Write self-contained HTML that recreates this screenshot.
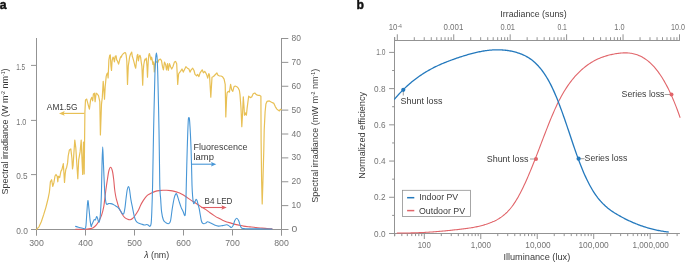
<!DOCTYPE html>
<html><head><meta charset="utf-8"><style>
html,body{margin:0;padding:0;background:#fff;width:685px;height:262px;overflow:hidden}
svg{display:block;will-change:transform}
text{font-family:"Liberation Sans", sans-serif}
</style></head><body>
<svg width="685" height="262" viewBox="0 0 685 262" font-family='"Liberation Sans", sans-serif'><text x="-0.3" y="9.2" font-size="12.2" fill="#111" font-weight="bold" stroke="#111" stroke-width="0.45">a</text>
<text x="356.6" y="8.9" font-size="12.2" fill="#111" font-weight="bold" stroke="#111" stroke-width="0.4">b</text>
<line x1="36.5" y1="38" x2="36.5" y2="235.5" stroke="#939393" stroke-width="1"/>
<line x1="31" y1="229.5" x2="288.3" y2="229.5" stroke="#939393" stroke-width="1"/>
<line x1="281.5" y1="38" x2="281.5" y2="235.5" stroke="#939393" stroke-width="1"/>
<line x1="31" y1="229.5" x2="36.5" y2="229.5" stroke="#939393" stroke-width="1"/>
<text x="16.2" y="233.8" font-size="9" fill="#747474" textLength="11.7" lengthAdjust="spacingAndGlyphs" >0.0</text>
<line x1="31" y1="174.6" x2="36.5" y2="174.6" stroke="#939393" stroke-width="1"/>
<text x="16.2" y="178.9" font-size="9" fill="#747474" textLength="11.5" lengthAdjust="spacingAndGlyphs" >0.5</text>
<line x1="31" y1="120.4" x2="36.5" y2="120.4" stroke="#939393" stroke-width="1"/>
<text x="16.2" y="124.7" font-size="9" fill="#747474" textLength="10.1" lengthAdjust="spacingAndGlyphs" >1.0</text>
<line x1="31" y1="65.4" x2="36.5" y2="65.4" stroke="#939393" stroke-width="1"/>
<text x="16.2" y="69.7" font-size="9" fill="#747474" textLength="9" lengthAdjust="spacingAndGlyphs" >1.5</text>
<line x1="281.5" y1="229.5" x2="288.3" y2="229.5" stroke="#939393" stroke-width="1"/>
<text x="291.5" y="232" font-size="9" fill="#747474" textLength="5.8" lengthAdjust="spacingAndGlyphs" >0</text>
<line x1="281.5" y1="205.62" x2="288.3" y2="205.62" stroke="#939393" stroke-width="1"/>
<text x="291.5" y="208.12" font-size="9" fill="#747474" textLength="9.4" lengthAdjust="spacingAndGlyphs" >10</text>
<line x1="281.5" y1="181.75" x2="288.3" y2="181.75" stroke="#939393" stroke-width="1"/>
<text x="291.5" y="184.25" font-size="9" fill="#747474" textLength="9.4" lengthAdjust="spacingAndGlyphs" >20</text>
<line x1="281.5" y1="157.88" x2="288.3" y2="157.88" stroke="#939393" stroke-width="1"/>
<text x="291.5" y="160.38" font-size="9" fill="#747474" textLength="9.4" lengthAdjust="spacingAndGlyphs" >30</text>
<line x1="281.5" y1="134" x2="288.3" y2="134" stroke="#939393" stroke-width="1"/>
<text x="291.5" y="136.5" font-size="9" fill="#747474" textLength="9.4" lengthAdjust="spacingAndGlyphs" >40</text>
<line x1="281.5" y1="110.12" x2="288.3" y2="110.12" stroke="#939393" stroke-width="1"/>
<text x="291.5" y="112.62" font-size="9" fill="#747474" textLength="9.4" lengthAdjust="spacingAndGlyphs" >50</text>
<line x1="281.5" y1="86.25" x2="288.3" y2="86.25" stroke="#939393" stroke-width="1"/>
<text x="291.5" y="88.75" font-size="9" fill="#747474" textLength="9.4" lengthAdjust="spacingAndGlyphs" >60</text>
<line x1="281.5" y1="62.38" x2="288.3" y2="62.38" stroke="#939393" stroke-width="1"/>
<text x="291.5" y="64.88" font-size="9" fill="#747474" textLength="9.4" lengthAdjust="spacingAndGlyphs" >70</text>
<line x1="281.5" y1="38.5" x2="288.3" y2="38.5" stroke="#939393" stroke-width="1"/>
<text x="291.5" y="41" font-size="9" fill="#747474" textLength="9.4" lengthAdjust="spacingAndGlyphs" >80</text>
<line x1="36.5" y1="229.5" x2="36.5" y2="235.5" stroke="#939393" stroke-width="1"/>
<text x="36.5" y="245.9" font-size="9" fill="#747474" textLength="14.6" lengthAdjust="spacingAndGlyphs" text-anchor="middle" >300</text>
<line x1="85.5" y1="229.5" x2="85.5" y2="235.5" stroke="#939393" stroke-width="1"/>
<text x="85.5" y="245.9" font-size="9" fill="#747474" textLength="14.6" lengthAdjust="spacingAndGlyphs" text-anchor="middle" >400</text>
<line x1="134.5" y1="229.5" x2="134.5" y2="235.5" stroke="#939393" stroke-width="1"/>
<text x="134.5" y="245.9" font-size="9" fill="#747474" textLength="14.6" lengthAdjust="spacingAndGlyphs" text-anchor="middle" >500</text>
<line x1="183.5" y1="229.5" x2="183.5" y2="235.5" stroke="#939393" stroke-width="1"/>
<text x="183.5" y="245.9" font-size="9" fill="#747474" textLength="14.6" lengthAdjust="spacingAndGlyphs" text-anchor="middle" >600</text>
<line x1="232.5" y1="229.5" x2="232.5" y2="235.5" stroke="#939393" stroke-width="1"/>
<text x="232.5" y="245.9" font-size="9" fill="#747474" textLength="14.6" lengthAdjust="spacingAndGlyphs" text-anchor="middle" >700</text>
<line x1="281.5" y1="229.5" x2="281.5" y2="235.5" stroke="#939393" stroke-width="1"/>
<text x="281.5" y="245.9" font-size="9" fill="#747474" textLength="14.6" lengthAdjust="spacingAndGlyphs" text-anchor="middle" >800</text>
<text x="144.2" y="258.3" font-size="9" fill="#3a3a3a" textLength="25" lengthAdjust="spacingAndGlyphs"><tspan font-style="italic">λ</tspan> (nm)</text>
<text transform="translate(8.0,194.4) rotate(-90)" font-size="9" fill="#3a3a3a" textLength="126" lengthAdjust="spacingAndGlyphs">Spectral irradiance (W m<tspan font-size="5.2" dy="-3.3">-2</tspan><tspan dy="3.3"> nm</tspan><tspan font-size="5.2" dy="-3.3">-1</tspan><tspan dy="3.3">)</tspan></text>
<text transform="translate(317.9,202.8) rotate(-90)" font-size="9" fill="#3a3a3a" textLength="134" lengthAdjust="spacingAndGlyphs">Spectral irradiance (mW m<tspan font-size="5.2" dy="-3.3">-2</tspan><tspan dy="3.3"> nm</tspan><tspan font-size="5.2" dy="-3.3">-1</tspan><tspan dy="3.3">)</tspan></text>
<path d="M36.5,229.4 L39,226.8 L41.3,221.8 L43.6,214.9 L45.9,207.3 L47,203 L48.2,198.1 L49.4,192 L50.4,181.7 L51.6,179.7 L52.8,186.4 L53.9,182.7 L55,176 L56,174.5 L57.2,176.3 L57.8,181.8 L58.4,176.3 L59.7,177.5 L60.9,171.4 L61.9,169.6 L62.7,166.5 L63.3,163.5 L63.9,172.6 L64.5,182.4 L65.2,173.9 L65.8,169.6 L66.7,167.2 L67.6,162.9 L68.2,156 L69.4,149.9 L70.8,148.9 L71.9,158 L72.5,169 L73.1,165.3 L73.7,156 L74.8,140 L75.8,147.9 L76.8,163.8 L77.8,178.7 L78.7,159.8 L80.1,151.9 L81.2,140 L82.1,162 L82.7,174.5 L83.5,142 L84.2,174 L84.9,112 L85.5,99.9 L86.7,99.1 L88,104.1 L89.4,109.2 L90.6,99.9 L91.7,97.4 L92.7,100.8 L93.4,94 L94.4,93.2 L95.1,101.6 L96.1,93.2 L97.3,94 L98.5,95.7 L99.8,101.6 L100.4,134.9 L101.5,104.1 L102.3,97.4 L103.2,81.4 L104,91.5 L104.5,99.1 L105.2,86.5 L106.2,76.4 L106.9,73.9 L107.6,73 L108.1,78 L108.9,59.9 L109.7,55.3 L110.3,54.9 L110.9,65.4 L111.5,70.5 L112.1,60.8 L113,57.2 L113.7,58.1 L114.4,61.8 L115.2,56.3 L116.1,55.8 L116.7,59.9 L117.4,60.8 L118.1,62.7 L118.6,64.1 L119.2,61.8 L119.9,59 L120.7,56.7 L121.3,57.2 L121.9,55.3 L122.7,54.4 L123.4,53.5 L124.3,53 L125,52.6 L125.6,53 L126.2,55.3 L126.8,60.8 L127.5,84.5 L128.3,66 L128.9,61.8 L129.6,57.2 L130.2,55 L130.9,53.5 L131.7,52.1 L132.3,56.3 L132.9,58.1 L133.7,60.8 L134.4,63.6 L135,66.3 L135.7,68.2 L136.4,61.8 L137.2,55.3 L137.8,54.4 L138.4,60.8 L139.2,56.7 L139.9,55.3 L140.6,57.2 L141.2,61.8 L141.9,66.3 L142.7,85.2 L143.3,70 L143.8,64.5 L144.5,60.8 L145.1,59 L145.8,59.9 L146.3,58.1 L147,66.3 L147.5,77.2 L148.2,61.8 L148.8,55.3 L149.4,53.5 L150.2,56.3 L150.9,59.9 L151.6,57.2 L152.2,59.9 L152.9,64.5 L153.7,61.8 L154.3,71.9 L154.9,64.4 L156.1,61.4 L157.6,62.9 L158.9,59.8 L160.4,59.1 L161.5,60.6 L162.5,66.7 L163.4,69.8 L164.5,62.1 L165.6,64.4 L166.5,69.8 L167.6,63.7 L168.3,70.5 L169.5,63.7 L170.6,66.7 L171.7,69 L172.9,66.7 L174.4,62.1 L175.6,61.4 L176.7,63.7 L177.7,84.5 L178.6,74 L179.3,72.8 L180.5,71.3 L182,69 L183.3,72.1 L184.4,69.8 L185.9,66.7 L187.4,68.2 L188.9,69 L190,72.1 L191.2,69.8 L192.7,68.2 L194,70.5 L195,74.4 L196.6,75.9 L197.6,74.4 L198.9,76.6 L200.1,72.8 L201.1,71.3 L202.2,69.8 L203.4,72.8 L204.7,71.3 L205.7,72.8 L206.8,75.1 L207.7,78.2 L208.8,73.6 L209.5,75 L210.8,97.1 L212,77.2 L213.5,76.5 L215.4,74.5 L216.9,73 L218,75.3 L219.5,76 L221,76 L222.6,76.8 L224.1,79.1 L225.2,84.4 L225.8,117 L226.6,98 L227.1,92.8 L228.2,91.3 L229.4,92.1 L230.6,84.4 L231.7,89.8 L232.8,91.3 L234,86.7 L235.2,86 L236.8,86.7 L238.3,88.2 L239.4,90.5 L240,94.6 L241,108.3 L241.8,126.6 L242.6,112.9 L243.3,96.9 L244.1,108.3 L244.5,115.2 L245.6,112.9 L246.4,115.2 L247.1,108.3 L247.9,102.2 L248.7,96.1 L250.2,97.6 L251.7,96.9 L253.2,93.8 L254.8,93 L256.3,94.6 L257.8,95.3 L259.4,95.3 L260.9,96.3 L261.1,140 L261.6,180 L262.2,204 L262.9,182 L263.8,150 L264.2,130 L265.1,112 L265.9,104 L267,101.4 L269.3,100.9 L271.6,102.2 L273.9,103.4 L275.4,106.8 L276.9,109.1 L278,110 L279.4,110.9 L280.3,109.4 L281.3,109.6" fill="none" stroke="#e8c055" stroke-width="1.2" stroke-linejoin="round" stroke-linecap="round" />
<path d="M75.6,229.3 C77.13,229.3 82.33,229.42 84.8,229.3 C87.27,229.18 89,228.87 90.4,228.6 C91.8,228.33 92.2,228.33 93.2,227.7 C94.2,227.07 95.45,225.92 96.4,224.8 C97.35,223.68 98.02,222.67 98.9,221 C99.78,219.33 100.88,217.25 101.7,214.8 C102.52,212.35 103.25,209.27 103.8,206.3 C104.35,203.33 104.63,199.88 105,197 C105.37,194.12 105.6,191.92 106,189 C106.4,186.08 106.93,182.5 107.4,179.5 C107.87,176.5 108.27,173.05 108.8,171 C109.33,168.95 110,167.2 110.6,167.2 C111.2,167.2 111.88,168.95 112.4,171 C112.92,173.05 113.33,176.5 113.7,179.5 C114.07,182.5 114.3,186.42 114.6,189 C114.9,191.58 115.18,193.23 115.5,195 C115.82,196.77 115.93,197.5 116.5,199.6 C117.07,201.7 117.97,205.2 118.9,207.6 C119.83,210 121.17,212.38 122.1,214 C123.03,215.62 123.57,216.43 124.5,217.3 C125.43,218.17 126.77,218.8 127.7,219.2 C128.63,219.6 129.3,219.82 130.1,219.7 C130.9,219.58 131.7,219.17 132.5,218.5 C133.3,217.83 133.97,216.98 134.9,215.7 C135.83,214.42 137.17,212.5 138.1,210.8 C139.03,209.1 139.8,206.95 140.5,205.5 C141.2,204.05 141.62,203.25 142.3,202.1 C142.98,200.95 143.72,199.75 144.6,198.6 C145.48,197.45 146.45,196.15 147.6,195.2 C148.75,194.25 150.22,193.53 151.5,192.9 C152.78,192.27 154.03,191.78 155.3,191.4 C156.57,191.02 157.83,190.78 159.1,190.6 C160.37,190.42 161.63,190.35 162.9,190.3 C164.17,190.25 165.43,190.25 166.7,190.3 C167.97,190.35 169.22,190.42 170.5,190.6 C171.78,190.78 173.12,191.08 174.4,191.4 C175.68,191.72 177.18,192.17 178.2,192.5 C179.22,192.83 179.32,192.78 180.5,193.4 C181.68,194.02 183.63,195.12 185.3,196.2 C186.97,197.28 188.78,198.77 190.5,199.9 C192.22,201.03 193.88,201.88 195.6,203 C197.32,204.12 199.08,205.5 200.8,206.6 C202.52,207.7 204.37,208.57 205.9,209.6 C207.43,210.63 208.62,211.8 210,212.8 C211.38,213.8 212.8,214.72 214.2,215.6 C215.6,216.48 217,217.33 218.4,218.1 C219.8,218.87 221.2,219.57 222.6,220.2 C224,220.83 225.4,221.42 226.8,221.9 C228.2,222.38 229.6,222.68 231,223.1 C232.4,223.52 233.8,224.05 235.2,224.4 C236.6,224.75 238,224.92 239.4,225.2 C240.8,225.48 241.83,225.82 243.6,226.1 C245.37,226.38 247.93,226.65 250,226.9 C252.07,227.15 254,227.4 256,227.6 C258,227.8 260.17,227.95 262,228.1 C263.83,228.25 265.33,228.38 267,228.5 C268.67,228.62 271.17,228.75 272,228.8" fill="none" stroke="#e05f64" stroke-width="1.1" stroke-linejoin="round" stroke-linecap="round" />
<path d="M75.6,226.4 C76.07,226.53 77.58,226.97 78.4,227.2 C79.22,227.43 79.78,227.63 80.5,227.8 C81.22,227.97 81.98,228.02 82.7,228.2 C83.42,228.38 84.27,229.25 84.8,228.9 C85.33,228.55 85.55,228.92 85.9,226.1 C86.25,223.28 86.57,216.25 86.9,212 C87.23,207.75 87.55,201.08 87.9,200.6 C88.25,200.12 88.63,205.8 89,209.1 C89.37,212.4 89.73,217.5 90.1,220.4 C90.47,223.3 90.92,225.78 91.2,226.5 C91.48,227.22 91.47,225.48 91.8,224.7 C92.13,223.92 92.8,222.63 93.2,221.8 C93.6,220.97 93.83,220.03 94.2,219.7 C94.57,219.37 94.98,220.33 95.4,219.8 C95.82,219.27 96.32,216.65 96.7,216.5 C97.08,216.35 97.35,217.92 97.7,218.9 C98.05,219.88 98.43,222.4 98.8,222.4 C99.17,222.4 99.55,221.63 99.9,218.9 C100.25,216.17 100.63,210.82 100.9,206 C101.17,201.18 101.32,196.83 101.5,190 C101.68,183.17 101.8,172.18 102,165 C102.2,157.82 102.45,146.9 102.7,146.9 C102.95,146.9 103.18,157.82 103.5,165 C103.82,172.18 104.28,184.33 104.6,190 C104.92,195.67 105.13,196.75 105.4,199 C105.67,201.25 105.9,202.6 106.2,203.5 C106.5,204.4 106.83,204.38 107.2,204.4 C107.57,204.42 107.8,203.73 108.4,203.6 C109,203.47 109.98,203.47 110.8,203.6 C111.62,203.73 112.48,204 113.3,204.4 C114.12,204.8 114.9,205.47 115.7,206 C116.5,206.53 117.3,206.8 118.1,207.6 C118.9,208.4 119.83,209.85 120.5,210.8 C121.17,211.75 121.57,212.82 122.1,213.3 C122.63,213.78 123.22,214.65 123.7,213.7 C124.18,212.75 124.6,210.22 125,207.6 C125.4,204.98 125.72,201.02 126.1,198 C126.48,194.98 126.88,191.4 127.3,189.5 C127.72,187.6 128.22,186.52 128.6,186.6 C128.98,186.68 129.22,187.83 129.6,190 C129.98,192.17 130.42,196.67 130.9,199.6 C131.38,202.53 131.97,204.92 132.5,207.6 C133.03,210.28 133.57,213.55 134.1,215.7 C134.63,217.85 135.03,219.3 135.7,220.5 C136.37,221.7 137.17,222.32 138.1,222.9 C139.03,223.48 140.23,223.65 141.3,224 C142.37,224.35 143.57,224.92 144.5,225 C145.43,225.08 146.23,224.45 146.9,224.5 C147.57,224.55 148,225 148.5,225.3 C149,225.6 149.47,226.58 149.9,226.3 C150.33,226.02 150.78,226 151.1,223.6 C151.42,221.2 151.55,218.33 151.8,211.9 C152.05,205.47 152.3,198.65 152.6,185 C152.9,171.35 153.22,148.33 153.6,130 C153.98,111.67 154.55,87 154.9,75 C155.25,63 155.45,61.67 155.7,58 C155.95,54.33 156.17,53 156.4,53 C156.63,53 156.87,54.33 157.1,58 C157.33,61.67 157.48,63 157.8,75 C158.12,87 158.67,111.67 159,130 C159.33,148.33 159.52,173.43 159.8,185 C160.08,196.57 160.4,194.92 160.7,199.4 C161,203.88 161.15,208.47 161.6,211.9 C162.05,215.33 162.67,218.2 163.4,220 C164.13,221.8 165.12,222.1 166,222.7 C166.88,223.3 167.95,223.9 168.7,223.6 C169.45,223.3 169.9,223.43 170.5,220.9 C171.1,218.37 171.67,212.28 172.3,208.4 C172.93,204.52 173.73,199.98 174.3,197.6 C174.87,195.22 175.28,194.65 175.7,194.1 C176.12,193.55 176.23,193.08 176.8,194.3 C177.37,195.52 178.37,199.18 179.1,201.4 C179.83,203.62 180.52,205.88 181.2,207.6 C181.88,209.32 182.63,210.38 183.2,211.7 C183.77,213.02 184.25,215.12 184.6,215.5 C184.95,215.88 185.1,215.75 185.3,214 C185.5,212.25 185.63,209.83 185.8,205 C185.97,200.17 186.07,194.17 186.3,185 C186.53,175.83 186.88,160.5 187.2,150 C187.52,139.5 187.92,127.35 188.2,122 C188.48,116.65 188.65,117.9 188.9,117.9 C189.15,117.9 189.33,116.65 189.7,122 C190.07,127.35 190.72,139.5 191.1,150 C191.48,160.5 191.73,177.17 192,185 C192.27,192.83 192.43,193.92 192.7,197 C192.97,200.08 193.2,202.77 193.6,203.5 C194,204.23 194.68,202.1 195.1,201.4 C195.52,200.7 195.75,199.38 196.1,199.3 C196.45,199.22 196.85,199.95 197.2,200.9 C197.55,201.85 197.87,203.72 198.2,205 C198.53,206.28 198.85,206.93 199.2,208.6 C199.55,210.27 199.95,213.02 200.3,215 C200.65,216.98 200.93,219.13 201.3,220.5 C201.67,221.87 202.05,222.65 202.5,223.2 C202.95,223.75 203.47,223.82 204,223.8 C204.53,223.78 205.12,223.43 205.7,223.1 C206.28,222.77 206.78,221.87 207.5,221.8 C208.22,221.73 208.88,222.2 210,222.7 C211.12,223.2 212.8,224.23 214.2,224.8 C215.6,225.37 217,225.97 218.4,226.1 C219.8,226.23 221.2,225.82 222.6,225.6 C224,225.38 225.68,224.72 226.8,224.8 C227.92,224.88 228.53,225.65 229.3,226.1 C230.07,226.55 230.77,227.58 231.4,227.5 C232.03,227.42 232.53,226.75 233.1,225.6 C233.67,224.45 234.2,221.82 234.8,220.6 C235.4,219.38 236.07,218.3 236.7,218.3 C237.33,218.3 238,219.38 238.6,220.6 C239.2,221.82 239.75,224.33 240.3,225.6 C240.85,226.87 241.07,227.68 241.9,228.2 C242.73,228.72 242.38,228.58 245.3,228.7 C248.22,228.82 254.95,228.85 259.4,228.9 C263.85,228.95 269.9,228.98 272,229" fill="none" stroke="#4796d6" stroke-width="1.1" stroke-linejoin="round" stroke-linecap="round" />
<text x="46.8" y="109.8" font-size="9" fill="#3a3a3a" textLength="30.7" lengthAdjust="spacingAndGlyphs" >AM1.5G</text>
<line x1="84.5" y1="113.4" x2="63" y2="113.4" stroke="#e8c055" stroke-width="1.15"/>
<path d="M59.0,113.4 L64.7,111.0 L63.7,113.4 L64.7,115.8 Z" fill="#e8c055"/>
<text x="193.5" y="149.8" font-size="8.8" fill="#3a3a3a" textLength="54" lengthAdjust="spacingAndGlyphs" >Fluorescence</text>
<text x="193.5" y="159.8" font-size="8.8" fill="#3a3a3a" textLength="20.5" lengthAdjust="spacingAndGlyphs" >lamp</text>
<line x1="191.7" y1="164.2" x2="212" y2="164.2" stroke="#4796d6" stroke-width="1.1"/>
<path d="M216.3,164.2 L211,162 L211.9,164.2 L211,166.4 Z" fill="#4796d6"/>
<text x="204.5" y="203.9" font-size="8.6" fill="#3a3a3a" textLength="27.9" lengthAdjust="spacingAndGlyphs" >B4 LED</text>
<line x1="201.2" y1="207.5" x2="222.5" y2="207.5" stroke="#e05f64" stroke-width="1.1"/>
<path d="M226.7,207.5 L221.4,205.3 L222.3,207.5 L221.4,209.7 Z" fill="#e05f64"/>
<line x1="394.5" y1="37" x2="394.5" y2="236.3" stroke="#939393" stroke-width="1"/>
<line x1="389" y1="233.5" x2="679.9" y2="233.5" stroke="#939393" stroke-width="1"/>
<line x1="394.5" y1="40.5" x2="679.9" y2="40.5" stroke="#939393" stroke-width="1"/>
<line x1="389.1" y1="233.5" x2="394.5" y2="233.5" stroke="#939393" stroke-width="1"/>
<text x="374.1" y="236.5" font-size="9" fill="#747474" textLength="11.4" lengthAdjust="spacingAndGlyphs" >0.0</text>
<line x1="392.1" y1="215.39" x2="394.5" y2="215.39" stroke="#939393" stroke-width="1"/>
<line x1="389.1" y1="197.28" x2="394.5" y2="197.28" stroke="#939393" stroke-width="1"/>
<text x="374.1" y="200.28" font-size="9" fill="#747474" textLength="11.4" lengthAdjust="spacingAndGlyphs" >0.2</text>
<line x1="392.1" y1="179.17" x2="394.5" y2="179.17" stroke="#939393" stroke-width="1"/>
<line x1="389.1" y1="161.06" x2="394.5" y2="161.06" stroke="#939393" stroke-width="1"/>
<text x="374.1" y="164.06" font-size="9" fill="#747474" textLength="11.4" lengthAdjust="spacingAndGlyphs" >0.4</text>
<line x1="392.1" y1="142.95" x2="394.5" y2="142.95" stroke="#939393" stroke-width="1"/>
<line x1="389.1" y1="124.84" x2="394.5" y2="124.84" stroke="#939393" stroke-width="1"/>
<text x="374.1" y="127.84" font-size="9" fill="#747474" textLength="11.4" lengthAdjust="spacingAndGlyphs" >0.6</text>
<line x1="392.1" y1="106.73" x2="394.5" y2="106.73" stroke="#939393" stroke-width="1"/>
<line x1="389.1" y1="88.62" x2="394.5" y2="88.62" stroke="#939393" stroke-width="1"/>
<text x="374.1" y="91.62" font-size="9" fill="#747474" textLength="11.4" lengthAdjust="spacingAndGlyphs" >0.8</text>
<line x1="392.1" y1="70.51" x2="394.5" y2="70.51" stroke="#939393" stroke-width="1"/>
<line x1="389.1" y1="52.4" x2="394.5" y2="52.4" stroke="#939393" stroke-width="1"/>
<text x="376.3" y="55.4" font-size="9" fill="#747474" textLength="9.2" lengthAdjust="spacingAndGlyphs" >1.0</text>
<line x1="394.77" y1="233.5" x2="394.77" y2="236.1" stroke="#939393" stroke-width="1"/>
<line x1="401.83" y1="233.5" x2="401.83" y2="236.1" stroke="#939393" stroke-width="1"/>
<line x1="407.3" y1="233.5" x2="407.3" y2="236.1" stroke="#939393" stroke-width="1"/>
<line x1="411.77" y1="233.5" x2="411.77" y2="236.1" stroke="#939393" stroke-width="1"/>
<line x1="415.55" y1="233.5" x2="415.55" y2="236.1" stroke="#939393" stroke-width="1"/>
<line x1="418.83" y1="233.5" x2="418.83" y2="236.1" stroke="#939393" stroke-width="1"/>
<line x1="421.72" y1="233.5" x2="421.72" y2="236.1" stroke="#939393" stroke-width="1"/>
<line x1="424.3" y1="233.5" x2="424.3" y2="239" stroke="#939393" stroke-width="1"/>
<line x1="441.3" y1="233.5" x2="441.3" y2="236.1" stroke="#939393" stroke-width="1"/>
<line x1="451.24" y1="233.5" x2="451.24" y2="236.1" stroke="#939393" stroke-width="1"/>
<line x1="458.3" y1="233.5" x2="458.3" y2="236.1" stroke="#939393" stroke-width="1"/>
<line x1="463.77" y1="233.5" x2="463.77" y2="236.1" stroke="#939393" stroke-width="1"/>
<line x1="468.24" y1="233.5" x2="468.24" y2="236.1" stroke="#939393" stroke-width="1"/>
<line x1="472.02" y1="233.5" x2="472.02" y2="236.1" stroke="#939393" stroke-width="1"/>
<line x1="475.3" y1="233.5" x2="475.3" y2="236.1" stroke="#939393" stroke-width="1"/>
<line x1="478.19" y1="233.5" x2="478.19" y2="236.1" stroke="#939393" stroke-width="1"/>
<line x1="480.77" y1="233.5" x2="480.77" y2="239" stroke="#939393" stroke-width="1"/>
<line x1="497.77" y1="233.5" x2="497.77" y2="236.1" stroke="#939393" stroke-width="1"/>
<line x1="507.71" y1="233.5" x2="507.71" y2="236.1" stroke="#939393" stroke-width="1"/>
<line x1="514.77" y1="233.5" x2="514.77" y2="236.1" stroke="#939393" stroke-width="1"/>
<line x1="520.24" y1="233.5" x2="520.24" y2="236.1" stroke="#939393" stroke-width="1"/>
<line x1="524.71" y1="233.5" x2="524.71" y2="236.1" stroke="#939393" stroke-width="1"/>
<line x1="528.49" y1="233.5" x2="528.49" y2="236.1" stroke="#939393" stroke-width="1"/>
<line x1="531.77" y1="233.5" x2="531.77" y2="236.1" stroke="#939393" stroke-width="1"/>
<line x1="534.66" y1="233.5" x2="534.66" y2="236.1" stroke="#939393" stroke-width="1"/>
<line x1="537.24" y1="233.5" x2="537.24" y2="239" stroke="#939393" stroke-width="1"/>
<line x1="554.24" y1="233.5" x2="554.24" y2="236.1" stroke="#939393" stroke-width="1"/>
<line x1="564.18" y1="233.5" x2="564.18" y2="236.1" stroke="#939393" stroke-width="1"/>
<line x1="571.24" y1="233.5" x2="571.24" y2="236.1" stroke="#939393" stroke-width="1"/>
<line x1="576.71" y1="233.5" x2="576.71" y2="236.1" stroke="#939393" stroke-width="1"/>
<line x1="581.18" y1="233.5" x2="581.18" y2="236.1" stroke="#939393" stroke-width="1"/>
<line x1="584.96" y1="233.5" x2="584.96" y2="236.1" stroke="#939393" stroke-width="1"/>
<line x1="588.24" y1="233.5" x2="588.24" y2="236.1" stroke="#939393" stroke-width="1"/>
<line x1="591.13" y1="233.5" x2="591.13" y2="236.1" stroke="#939393" stroke-width="1"/>
<line x1="593.71" y1="233.5" x2="593.71" y2="239" stroke="#939393" stroke-width="1"/>
<line x1="610.71" y1="233.5" x2="610.71" y2="236.1" stroke="#939393" stroke-width="1"/>
<line x1="620.65" y1="233.5" x2="620.65" y2="236.1" stroke="#939393" stroke-width="1"/>
<line x1="627.71" y1="233.5" x2="627.71" y2="236.1" stroke="#939393" stroke-width="1"/>
<line x1="633.18" y1="233.5" x2="633.18" y2="236.1" stroke="#939393" stroke-width="1"/>
<line x1="637.65" y1="233.5" x2="637.65" y2="236.1" stroke="#939393" stroke-width="1"/>
<line x1="641.43" y1="233.5" x2="641.43" y2="236.1" stroke="#939393" stroke-width="1"/>
<line x1="644.71" y1="233.5" x2="644.71" y2="236.1" stroke="#939393" stroke-width="1"/>
<line x1="647.6" y1="233.5" x2="647.6" y2="236.1" stroke="#939393" stroke-width="1"/>
<line x1="650.18" y1="233.5" x2="650.18" y2="239" stroke="#939393" stroke-width="1"/>
<line x1="667.18" y1="233.5" x2="667.18" y2="236.1" stroke="#939393" stroke-width="1"/>
<line x1="677.12" y1="233.5" x2="677.12" y2="236.1" stroke="#939393" stroke-width="1"/>
<text x="417.7" y="247.6" font-size="9" fill="#747474" textLength="13.1" lengthAdjust="spacingAndGlyphs" >100</text>
<text x="470.8" y="247.6" font-size="9" fill="#747474" textLength="20.1" lengthAdjust="spacingAndGlyphs" >1,000</text>
<text x="525.3" y="247.6" font-size="9" fill="#747474" textLength="25.3" lengthAdjust="spacingAndGlyphs" >10,000</text>
<text x="578.4" y="247.6" font-size="9" fill="#747474" textLength="30.4" lengthAdjust="spacingAndGlyphs" >100,000</text>
<text x="632.5" y="247.6" font-size="9" fill="#747474" textLength="36.3" lengthAdjust="spacingAndGlyphs" >1,000,000</text>
<text x="503.4" y="260.4" font-size="8.8" fill="#3a3a3a" textLength="66.8" lengthAdjust="spacingAndGlyphs" >Illuminance (lux)</text>
<line x1="394.72" y1="40.5" x2="394.72" y2="37.2" stroke="#939393" stroke-width="1"/>
<line x1="397.3" y1="40.5" x2="397.3" y2="34.3" stroke="#939393" stroke-width="1"/>
<line x1="414.29" y1="40.5" x2="414.29" y2="37.2" stroke="#939393" stroke-width="1"/>
<line x1="424.23" y1="40.5" x2="424.23" y2="37.2" stroke="#939393" stroke-width="1"/>
<line x1="431.28" y1="40.5" x2="431.28" y2="37.2" stroke="#939393" stroke-width="1"/>
<line x1="436.75" y1="40.5" x2="436.75" y2="37.2" stroke="#939393" stroke-width="1"/>
<line x1="441.22" y1="40.5" x2="441.22" y2="37.2" stroke="#939393" stroke-width="1"/>
<line x1="445" y1="40.5" x2="445" y2="37.2" stroke="#939393" stroke-width="1"/>
<line x1="448.27" y1="40.5" x2="448.27" y2="37.2" stroke="#939393" stroke-width="1"/>
<line x1="451.16" y1="40.5" x2="451.16" y2="37.2" stroke="#939393" stroke-width="1"/>
<line x1="453.74" y1="40.5" x2="453.74" y2="34.3" stroke="#939393" stroke-width="1"/>
<line x1="470.73" y1="40.5" x2="470.73" y2="37.2" stroke="#939393" stroke-width="1"/>
<line x1="480.67" y1="40.5" x2="480.67" y2="37.2" stroke="#939393" stroke-width="1"/>
<line x1="487.72" y1="40.5" x2="487.72" y2="37.2" stroke="#939393" stroke-width="1"/>
<line x1="493.19" y1="40.5" x2="493.19" y2="37.2" stroke="#939393" stroke-width="1"/>
<line x1="497.66" y1="40.5" x2="497.66" y2="37.2" stroke="#939393" stroke-width="1"/>
<line x1="501.44" y1="40.5" x2="501.44" y2="37.2" stroke="#939393" stroke-width="1"/>
<line x1="504.71" y1="40.5" x2="504.71" y2="37.2" stroke="#939393" stroke-width="1"/>
<line x1="507.6" y1="40.5" x2="507.6" y2="37.2" stroke="#939393" stroke-width="1"/>
<line x1="510.18" y1="40.5" x2="510.18" y2="34.3" stroke="#939393" stroke-width="1"/>
<line x1="527.17" y1="40.5" x2="527.17" y2="37.2" stroke="#939393" stroke-width="1"/>
<line x1="537.11" y1="40.5" x2="537.11" y2="37.2" stroke="#939393" stroke-width="1"/>
<line x1="544.16" y1="40.5" x2="544.16" y2="37.2" stroke="#939393" stroke-width="1"/>
<line x1="549.63" y1="40.5" x2="549.63" y2="37.2" stroke="#939393" stroke-width="1"/>
<line x1="554.1" y1="40.5" x2="554.1" y2="37.2" stroke="#939393" stroke-width="1"/>
<line x1="557.88" y1="40.5" x2="557.88" y2="37.2" stroke="#939393" stroke-width="1"/>
<line x1="561.15" y1="40.5" x2="561.15" y2="37.2" stroke="#939393" stroke-width="1"/>
<line x1="564.04" y1="40.5" x2="564.04" y2="37.2" stroke="#939393" stroke-width="1"/>
<line x1="566.62" y1="40.5" x2="566.62" y2="34.3" stroke="#939393" stroke-width="1"/>
<line x1="583.61" y1="40.5" x2="583.61" y2="37.2" stroke="#939393" stroke-width="1"/>
<line x1="593.55" y1="40.5" x2="593.55" y2="37.2" stroke="#939393" stroke-width="1"/>
<line x1="600.6" y1="40.5" x2="600.6" y2="37.2" stroke="#939393" stroke-width="1"/>
<line x1="606.07" y1="40.5" x2="606.07" y2="37.2" stroke="#939393" stroke-width="1"/>
<line x1="610.54" y1="40.5" x2="610.54" y2="37.2" stroke="#939393" stroke-width="1"/>
<line x1="614.32" y1="40.5" x2="614.32" y2="37.2" stroke="#939393" stroke-width="1"/>
<line x1="617.59" y1="40.5" x2="617.59" y2="37.2" stroke="#939393" stroke-width="1"/>
<line x1="620.48" y1="40.5" x2="620.48" y2="37.2" stroke="#939393" stroke-width="1"/>
<line x1="623.06" y1="40.5" x2="623.06" y2="34.3" stroke="#939393" stroke-width="1"/>
<line x1="640.05" y1="40.5" x2="640.05" y2="37.2" stroke="#939393" stroke-width="1"/>
<line x1="649.99" y1="40.5" x2="649.99" y2="37.2" stroke="#939393" stroke-width="1"/>
<line x1="657.04" y1="40.5" x2="657.04" y2="37.2" stroke="#939393" stroke-width="1"/>
<line x1="662.51" y1="40.5" x2="662.51" y2="37.2" stroke="#939393" stroke-width="1"/>
<line x1="666.98" y1="40.5" x2="666.98" y2="37.2" stroke="#939393" stroke-width="1"/>
<line x1="670.76" y1="40.5" x2="670.76" y2="37.2" stroke="#939393" stroke-width="1"/>
<line x1="674.03" y1="40.5" x2="674.03" y2="37.2" stroke="#939393" stroke-width="1"/>
<line x1="676.92" y1="40.5" x2="676.92" y2="37.2" stroke="#939393" stroke-width="1"/>
<line x1="679.5" y1="40.5" x2="679.5" y2="34.3" stroke="#939393" stroke-width="1"/>
<text x="443.5" y="30.2" font-size="9" fill="#747474" textLength="19.8" lengthAdjust="spacingAndGlyphs" >0.001</text>
<text x="500.5" y="30.2" font-size="9" fill="#747474" textLength="14.5" lengthAdjust="spacingAndGlyphs" >0.01</text>
<text x="557.4" y="30.2" font-size="9" fill="#747474" textLength="9.5" lengthAdjust="spacingAndGlyphs" >0.1</text>
<text x="614.3" y="30.2" font-size="9" fill="#747474" textLength="10.2" lengthAdjust="spacingAndGlyphs" >1.0</text>
<text x="671" y="30.2" font-size="9" fill="#747474" textLength="13.9" lengthAdjust="spacingAndGlyphs" >10.0</text>
<text x="388.7" y="30.1" font-size="9" fill="#747474" textLength="8.6" lengthAdjust="spacingAndGlyphs" >10</text>
<text x="397.4" y="27.6" font-size="5.2" fill="#747474" textLength="4.6" lengthAdjust="spacingAndGlyphs" >-4</text>
<text x="500.3" y="17.2" font-size="8.8" fill="#3a3a3a" textLength="66.4" lengthAdjust="spacingAndGlyphs" >Irradiance (suns)</text>
<text transform="translate(364.8,178.7) rotate(-90)" font-size="9" fill="#3a3a3a" textLength="86.8" lengthAdjust="spacingAndGlyphs">Normalized efficiency</text>
<path d="M397.2,232.93 L398.2,232.95 L399.2,232.97 L400.2,232.98 L401.2,232.99 L402.2,233 L403.2,233 L404.2,233 L405.2,233 L406.2,232.99 L407.2,232.98 L408.2,232.97 L409.2,232.96 L410.2,232.94 L411.2,232.92 L412.2,232.9 L413.2,232.87 L414.2,232.85 L415.2,232.82 L416.2,232.78 L417.2,232.75 L418.2,232.71 L419.2,232.67 L420.2,232.63 L421.2,232.58 L422.2,232.54 L423.2,232.49 L424.2,232.43 L425.2,232.38 L426.2,232.32 L427.2,232.26 L428.2,232.2 L429.2,232.14 L430.2,232.07 L431.2,232 L432.2,231.93 L433.2,231.86 L434.2,231.79 L435.2,231.71 L436.2,231.63 L437.2,231.55 L438.2,231.47 L439.2,231.39 L440.2,231.3 L441.2,231.21 L442.2,231.12 L443.2,231.03 L444.2,230.94 L445.2,230.85 L446.2,230.75 L447.2,230.65 L448.2,230.55 L449.2,230.45 L450.2,230.35 L451.2,230.24 L452.2,230.14 L453.2,230.03 L454.2,229.92 L455.2,229.81 L456.2,229.7 L457.2,229.59 L458.2,229.48 L459.2,229.36 L460.2,229.25 L461.2,229.13 L462.2,229.01 L463.2,228.89 L464.2,228.76 L465.2,228.63 L466.2,228.5 L467.2,228.36 L468.2,228.22 L469.2,228.08 L470.2,227.92 L471.2,227.77 L472.2,227.6 L473.2,227.43 L474.2,227.24 L475.2,227.05 L476.2,226.86 L477.2,226.65 L478.2,226.43 L479.2,226.2 L480.2,225.96 L481.2,225.71 L482.2,225.44 L483.2,225.17 L484.2,224.88 L485.2,224.57 L486.2,224.26 L487.2,223.92 L488.2,223.58 L489.2,223.21 L490.2,222.84 L491.2,222.44 L492.2,222.03 L493.2,221.59 L494.2,221.14 L495.2,220.66 L496.2,220.15 L497.2,219.61 L498.2,219.04 L499.2,218.44 L500.2,217.79 L501.2,217.11 L502.2,216.39 L503.2,215.61 L504.2,214.8 L505.2,213.93 L506.2,213.01 L507.2,212.03 L508.2,210.99 L509.2,209.9 L510.2,208.74 L511.2,207.51 L512.2,206.22 L513.2,204.86 L514.2,203.42 L515.2,201.91 L516.2,200.32 L517.2,198.65 L518.2,196.91 L519.2,195.1 L520.2,193.22 L521.2,191.28 L522.2,189.28 L523.2,187.22 L524.2,185.1 L525.2,182.93 L526.2,180.71 L527.2,178.44 L528.2,176.13 L529.2,173.78 L530.2,171.39 L531.2,168.96 L532.2,166.51 L533.2,164.02 L534.2,161.5 L535.2,158.97 L536.2,156.41 L537.2,153.83 L538.2,151.24 L539.2,148.63 L540.2,146.02 L541.2,143.4 L542.2,140.78 L543.2,138.17 L544.2,135.56 L545.2,132.97 L546.2,130.39 L547.2,127.83 L548.2,125.3 L549.2,122.8 L550.2,120.33 L551.2,117.9 L552.2,115.51 L553.2,113.17 L554.2,110.88 L555.2,108.64 L556.2,106.46 L557.2,104.35 L558.2,102.3 L559.2,100.32 L560.2,98.4 L561.2,96.54 L562.2,94.75 L563.2,93.01 L564.2,91.33 L565.2,89.7 L566.2,88.13 L567.2,86.62 L568.2,85.15 L569.2,83.74 L570.2,82.37 L571.2,81.05 L572.2,79.78 L573.2,78.55 L574.2,77.36 L575.2,76.22 L576.2,75.12 L577.2,74.05 L578.2,73.02 L579.2,72.03 L580.2,71.07 L581.2,70.15 L582.2,69.25 L583.2,68.39 L584.2,67.56 L585.2,66.76 L586.2,65.99 L587.2,65.25 L588.2,64.54 L589.2,63.86 L590.2,63.2 L591.2,62.57 L592.2,61.96 L593.2,61.39 L594.2,60.83 L595.2,60.3 L596.2,59.8 L597.2,59.31 L598.2,58.85 L599.2,58.41 L600.2,57.99 L601.2,57.6 L602.2,57.22 L603.2,56.86 L604.2,56.52 L605.2,56.2 L606.2,55.89 L607.2,55.6 L608.2,55.33 L609.2,55.07 L610.2,54.83 L611.2,54.6 L612.2,54.39 L613.2,54.19 L614.2,54 L615.2,53.82 L616.2,53.65 L617.2,53.5 L618.2,53.36 L619.2,53.24 L620.2,53.13 L621.2,53.04 L622.2,52.97 L623.2,52.91 L624.2,52.88 L625.2,52.87 L626.2,52.89 L627.2,52.92 L628.2,52.99 L629.2,53.07 L630.2,53.19 L631.2,53.33 L632.2,53.51 L633.2,53.71 L634.2,53.94 L635.2,54.21 L636.2,54.51 L637.2,54.85 L638.2,55.22 L639.2,55.63 L640.2,56.08 L641.2,56.57 L642.2,57.1 L643.2,57.67 L644.2,58.28 L645.2,58.93 L646.2,59.63 L647.2,60.38 L648.2,61.17 L649.2,62.01 L650.2,62.9 L651.2,63.84 L652.2,64.84 L653.2,65.88 L654.2,66.98 L655.2,68.13 L656.2,69.34 L657.2,70.6 L658.2,71.93 L659.2,73.31 L660.2,74.75 L661.2,76.26 L662.2,77.82 L663.2,79.45 L664.2,81.14 L665.2,82.9 L666.2,84.73 L667.2,86.62 L668.2,88.59 L669.2,90.62 L670.2,92.72 L671.2,94.9 L672.2,97.15 L673.2,99.47 L674.2,101.87 L675.2,104.35 L676.2,106.9 L677.2,109.53 L678.2,112.24 L679.2,115.04 L680,117.33" fill="none" stroke="#e1656a" stroke-width="1.1" stroke-linejoin="round" stroke-linecap="round" />
<path d="M394.6,99.05 L395.6,97.88 L396.6,96.73 L397.6,95.61 L398.6,94.51 L399.6,93.43 L400.6,92.37 L401.6,91.34 L402.6,90.32 L403.6,89.33 L404.6,88.36 L405.6,87.4 L406.6,86.47 L407.6,85.56 L408.6,84.67 L409.6,83.79 L410.6,82.94 L411.6,82.1 L412.6,81.28 L413.6,80.48 L414.6,79.7 L415.6,78.93 L416.6,78.18 L417.6,77.45 L418.6,76.73 L419.6,76.03 L420.6,75.35 L421.6,74.68 L422.6,74.02 L423.6,73.38 L424.6,72.75 L425.6,72.14 L426.6,71.54 L427.6,70.95 L428.6,70.38 L429.6,69.82 L430.6,69.27 L431.6,68.73 L432.6,68.21 L433.6,67.69 L434.6,67.19 L435.6,66.7 L436.6,66.21 L437.6,65.74 L438.6,65.28 L439.6,64.83 L440.6,64.38 L441.6,63.95 L442.6,63.52 L443.6,63.1 L444.6,62.69 L445.6,62.28 L446.6,61.89 L447.6,61.5 L448.6,61.11 L449.6,60.74 L450.6,60.36 L451.6,60 L452.6,59.63 L453.6,59.28 L454.6,58.93 L455.6,58.58 L456.6,58.23 L457.6,57.89 L458.6,57.56 L459.6,57.22 L460.6,56.89 L461.6,56.57 L462.6,56.25 L463.6,55.93 L464.6,55.62 L465.6,55.32 L466.6,55.02 L467.6,54.72 L468.6,54.44 L469.6,54.15 L470.6,53.88 L471.6,53.61 L472.6,53.35 L473.6,53.1 L474.6,52.85 L475.6,52.61 L476.6,52.38 L477.6,52.16 L478.6,51.95 L479.6,51.74 L480.6,51.54 L481.6,51.36 L482.6,51.18 L483.6,51.01 L484.6,50.85 L485.6,50.71 L486.6,50.57 L487.6,50.44 L488.6,50.32 L489.6,50.22 L490.6,50.13 L491.6,50.04 L492.6,49.97 L493.6,49.92 L494.6,49.87 L495.6,49.84 L496.6,49.82 L497.6,49.81 L498.6,49.82 L499.6,49.84 L500.6,49.87 L501.6,49.92 L502.6,49.98 L503.6,50.05 L504.6,50.14 L505.6,50.25 L506.6,50.37 L507.6,50.51 L508.6,50.66 L509.6,50.83 L510.6,51.01 L511.6,51.21 L512.6,51.43 L513.6,51.67 L514.6,51.92 L515.6,52.19 L516.6,52.47 L517.6,52.78 L518.6,53.1 L519.6,53.44 L520.6,53.81 L521.6,54.2 L522.6,54.61 L523.6,55.06 L524.6,55.53 L525.6,56.03 L526.6,56.57 L527.6,57.14 L528.6,57.75 L529.6,58.4 L530.6,59.09 L531.6,59.82 L532.6,60.6 L533.6,61.43 L534.6,62.3 L535.6,63.22 L536.6,64.2 L537.6,65.23 L538.6,66.31 L539.6,67.46 L540.6,68.66 L541.6,69.93 L542.6,71.26 L543.6,72.65 L544.6,74.12 L545.6,75.65 L546.6,77.25 L547.6,78.93 L548.6,80.68 L549.6,82.51 L550.6,84.42 L551.6,86.4 L552.6,88.48 L553.6,90.63 L554.6,92.87 L555.6,95.2 L556.6,97.6 L557.6,100.08 L558.6,102.62 L559.6,105.24 L560.6,107.91 L561.6,110.63 L562.6,113.4 L563.6,116.22 L564.6,119.08 L565.6,121.97 L566.6,124.9 L567.6,127.85 L568.6,130.81 L569.6,133.79 L570.6,136.78 L571.6,139.76 L572.6,142.73 L573.6,145.69 L574.6,148.62 L575.6,151.51 L576.6,154.36 L577.6,157.15 L578.6,159.87 L579.6,162.52 L580.6,165.1 L581.6,167.61 L582.6,170.04 L583.6,172.4 L584.6,174.68 L585.6,176.89 L586.6,179.02 L587.6,181.08 L588.6,183.06 L589.6,184.96 L590.6,186.79 L591.6,188.54 L592.6,190.21 L593.6,191.81 L594.6,193.34 L595.6,194.8 L596.6,196.2 L597.6,197.53 L598.6,198.8 L599.6,200.02 L600.6,201.18 L601.6,202.28 L602.6,203.33 L603.6,204.34 L604.6,205.3 L605.6,206.22 L606.6,207.09 L607.6,207.93 L608.6,208.73 L609.6,209.5 L610.6,210.24 L611.6,210.95 L612.6,211.63 L613.6,212.29 L614.6,212.93 L615.6,213.54 L616.6,214.15 L617.6,214.74 L618.6,215.31 L619.6,215.88 L620.6,216.44 L621.6,216.99 L622.6,217.52 L623.6,218.05 L624.6,218.57 L625.6,219.08 L626.6,219.57 L627.6,220.06 L628.6,220.54 L629.6,221.01 L630.6,221.46 L631.6,221.91 L632.6,222.35 L633.6,222.78 L634.6,223.2 L635.6,223.61 L636.6,224.01 L637.6,224.4 L638.6,224.78 L639.6,225.15 L640.6,225.52 L641.6,225.87 L642.6,226.22 L643.6,226.55 L644.6,226.88 L645.6,227.19 L646.6,227.5 L647.6,227.8 L648.6,228.09 L649.6,228.37 L650.6,228.64 L651.6,228.9 L652.6,229.16 L653.6,229.4 L654.6,229.64 L655.6,229.87 L656.6,230.09 L657.6,230.3 L658.6,230.5 L659.6,230.69 L660.6,230.88 L661.6,231.05 L662.6,231.22 L663.6,231.38 L664.6,231.53 L665.6,231.68 L666.6,231.81 L667.6,231.94 L668.2,232.01" fill="none" stroke="#2479bd" stroke-width="1.3" stroke-linejoin="round" stroke-linecap="round" />
<line x1="403.3" y1="89.8" x2="403.3" y2="95.5" stroke="#858585" stroke-width="0.8"/>
<circle cx="403.3" cy="89.8" r="2.1" fill="#2479bd"/>
<text x="400.6" y="103.7" font-size="8.8" fill="#3a3a3a" textLength="41.8" lengthAdjust="spacingAndGlyphs" >Shunt loss</text>
<line x1="530" y1="159" x2="536" y2="159" stroke="#858585" stroke-width="0.8"/>
<circle cx="536" cy="159" r="2" fill="#e1656a"/>
<text x="486.7" y="161.8" font-size="8.8" fill="#3a3a3a" textLength="41.8" lengthAdjust="spacingAndGlyphs" >Shunt loss</text>
<line x1="578.6" y1="158.7" x2="584.5" y2="158.7" stroke="#858585" stroke-width="0.8"/>
<circle cx="578.6" cy="158.7" r="2.1" fill="#2479bd"/>
<text x="584.6" y="161.2" font-size="8.8" fill="#3a3a3a" textLength="42.7" lengthAdjust="spacingAndGlyphs" >Series loss</text>
<line x1="664.6" y1="94.5" x2="671.5" y2="94.5" stroke="#858585" stroke-width="0.8"/>
<circle cx="671.5" cy="94.5" r="2" fill="#e1656a"/>
<text x="621.6" y="96.6" font-size="8.8" fill="#3a3a3a" textLength="42.9" lengthAdjust="spacingAndGlyphs" >Series loss</text>
<rect x="402.4" y="190.3" width="68" height="26.2" fill="#fff" stroke="#909090" stroke-width="0.8"/>
<line x1="407.1" y1="197.7" x2="414.3" y2="197.7" stroke="#2479bd" stroke-width="1.5"/>
<line x1="407.1" y1="210.6" x2="414.3" y2="210.6" stroke="#e1656a" stroke-width="1.5"/>
<text x="419.3" y="199.8" font-size="8.6" fill="#3a3a3a" textLength="38.9" lengthAdjust="spacingAndGlyphs" >Indoor PV</text>
<text x="418.9" y="213.8" font-size="8.6" fill="#3a3a3a" textLength="46.2" lengthAdjust="spacingAndGlyphs" >Outdoor PV</text></svg>
</body></html>
